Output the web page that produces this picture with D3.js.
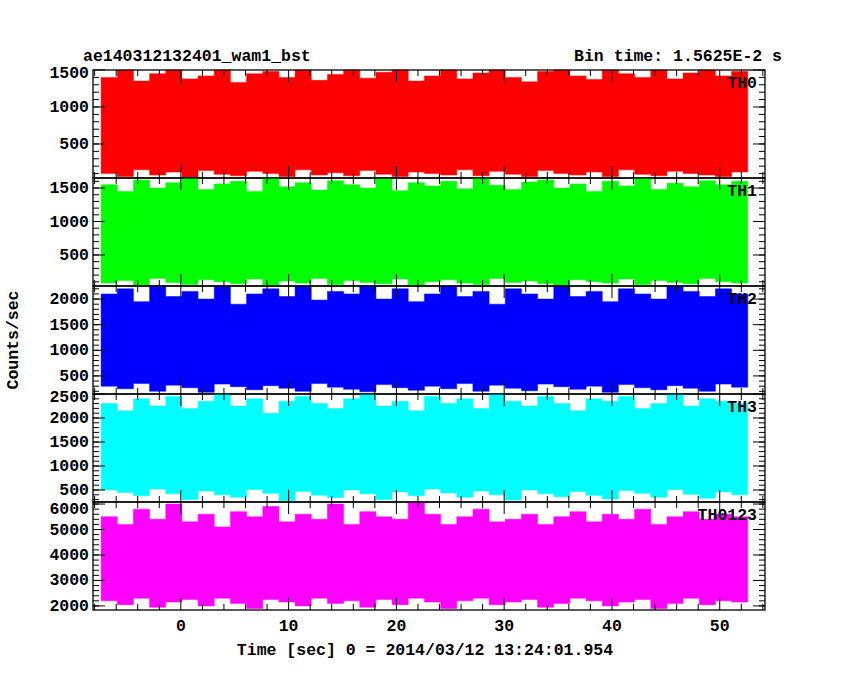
<!DOCTYPE html>
<html><head><meta charset="utf-8">
<script src="https://cdn.jsdelivr.net/npm/d3@7"></script>
<style>body{margin:0;background:#fff}text{font-family:"Liberation Mono","DejaVu Sans Mono",monospace;font-weight:bold}</style>
</head><body><svg id="c" width="850" height="680"></svg>
<script>
const panelNames=["TH0","TH1","TH2","TH3","TH0123"];
const panelColors=["#ff0000","#00ff00","#0000ff","#00ffff","#ff00ff"];
const yDomains=[[40,1500],[37,1650],[147,2255],[250,2500],[1840,6080]];
const yTicks=[[500,1000,1500],[500,1000,1500],[500,1000,1500,2000],[500,1000,1500,2000,2500],[2000,3000,4000,5000,6000]];
const yMinor=[100,100,100,100,200];
const tStart=-7.4, tEnd=52.6;
const hi=[
[1400,1500,1350,1450,1500,1380,1420,1500,1330,1450,1480,1400,1500,1360,1440,1500,1390,1470,1500,1350,1420,1500,1380,1460,1500,1400,1340,1480,1500,1420,1370,1500,1450,1400,1500,1380,1460,1500,1420,1480],
[1550,1450,1620,1500,1580,1650,1480,1560,1600,1450,1650,1520,1580,1470,1610,1550,1500,1640,1460,1580,1530,1600,1490,1650,1540,1480,1590,1620,1500,1560,1450,1600,1530,1650,1480,1570,1520,1610,1550,1600],
[2100,2200,1950,2250,2050,2150,2000,2250,1900,2100,2200,2050,2250,1980,2150,2100,2255,2000,2200,1950,2100,2250,2050,2150,1900,2200,2100,2000,2250,2050,2150,1950,2200,2100,2000,2250,2150,2050,2200,2100],
[2300,2150,2400,2250,2450,2200,2350,2500,2250,2400,2100,2350,2450,2300,2200,2400,2500,2250,2350,2150,2450,2300,2400,2200,2500,2350,2250,2450,2300,2150,2400,2350,2450,2200,2300,2500,2250,2400,2350,2300],
[5500,5200,5800,5400,6000,5300,5600,5100,5700,5500,5900,5300,5600,5400,6000,5200,5700,5500,5400,6050,5600,5200,5500,5800,5300,5400,5600,5200,5500,5700,5300,5600,5400,5800,5200,5500,5700,5400,5600,5500]];
const lo=[
[100,60,150,80,120,50,140,90,70,130,100,60,150,80,110,70,140,90,60,120,100,80,150,70,130,90,60,140,100,80,120,60,150,90,70,130,100,80,60,120],
[80,120,50,150,90,60,130,100,70,140,50,110,80,150,60,120,90,70,140,50,100,130,80,60,150,90,110,70,50,130,100,80,140,60,120,90,70,150,100,80],
[300,250,350,200,320,270,180,340,290,230,310,260,200,350,280,240,190,330,270,220,300,250,350,200,320,260,210,340,290,240,300,180,330,270,230,310,260,200,340,280],
[500,450,380,520,420,300,480,400,350,510,430,280,470,390,340,500,420,300,460,380,520,440,350,480,400,290,500,420,360,470,390,310,490,430,350,510,410,330,460,400],
[2200,2050,2300,1950,2150,2250,2000,2300,2100,1900,2250,2150,2000,2300,2100,2200,1950,2250,2050,2300,2150,1900,2200,2300,2050,2150,2250,1950,2100,2300,2200,2000,2150,2250,1900,2100,2300,2050,2200,2150]];
const xTicks=[0,10,20,30,40,50];

const svg=d3.select("#c");
const L=93,R=765,T=70,P=108,FS=16.5;
const x=d3.scaleLinear().domain([-8.15,54.2]).range([L,R]);
panelNames.forEach((nm,i)=>{
  const top=T+i*P, bot=top+P;
  const y=d3.scaleLinear().domain(yDomains[i]).range([bot,top]);
  const n=hi[i].length, dt=(tEnd-tStart)/n;
  const pts=hi[i].map((h,k)=>({t:tStart+k*dt,h,l:lo[i][k]}));
  pts.push({t:tEnd,h:hi[i][n-1],l:lo[i][n-1]});
  const g=svg.append("g");
  g.append("path").datum(pts).attr("fill",panelColors[i]).attr("stroke",panelColors[i]).attr("stroke-width",0.5)
   .attr("d",d3.area().curve(d3.curveStepAfter).x(d=>x(d.t)).y0(d=>y(d.l)).y1(d=>y(d.h)));
  const maj=yTicks[i], mnr=d3.range(Math.ceil(yDomains[i][0]/yMinor[i])*yMinor[i],yDomains[i][1],yMinor[i]);
  mnr.forEach(v=>{[[L,6],[R,-6]].forEach(([x0,d])=>g.append("line").attr("x1",x0).attr("x2",x0+d).attr("y1",y(v)).attr("y2",y(v)).attr("stroke","#000"));});
  maj.forEach(v=>{if(y(v)<top-1)return;[[L,12],[R,-12]].forEach(([x0,d])=>g.append("line").attr("x1",x0).attr("x2",x0+d).attr("y1",y(v)).attr("y2",y(v)).attr("stroke","#000"));
    const ty=Math.max(y(v)+5,top+(i===4?12:8));
    g.append("text").attr("x",L-4).attr("y",ty).attr("text-anchor","end").attr("font-size",FS).text(v);});
  d3.range(-8,55,2).forEach(v=>{const big=v%10===0;[[top,1],[bot,-1]].forEach(([y0,s])=>g.append("line").attr("x1",x(v)).attr("x2",x(v)).attr("y1",y0).attr("y2",y0+s*(big?12:6)).attr("stroke","#000"));});
  g.append("rect").attr("x",L).attr("y",top).attr("width",R-L).attr("height",P).attr("fill","none").attr("stroke","#000").attr("stroke-width",1.3);
  g.append("text").attr("x",R-8).attr("y",top+18).attr("text-anchor","end").attr("font-size",FS).text(nm);
});
xTicks.forEach(v=>svg.append("text").attr("x",x(v)).attr("y",T+5*P+21).attr("text-anchor","middle").attr("font-size",FS).text(v));
svg.append("text").attr("x",425).attr("y",655).attr("text-anchor","middle").attr("font-size",FS).text("Time [sec] 0 = 2014/03/12 13:24:01.954");
svg.append("text").attr("x",L-10).attr("y",61).attr("font-size",FS).text("ae140312132401_wam1_bst");
svg.append("text").attr("x",R+17).attr("y",61).attr("text-anchor","end").attr("font-size",FS).text("Bin time: 1.5625E-2 s");
svg.append("text").attr("transform","translate(18,340) rotate(-90)").attr("text-anchor","middle").attr("font-size",FS).text("Counts/sec");
</script></body></html>
